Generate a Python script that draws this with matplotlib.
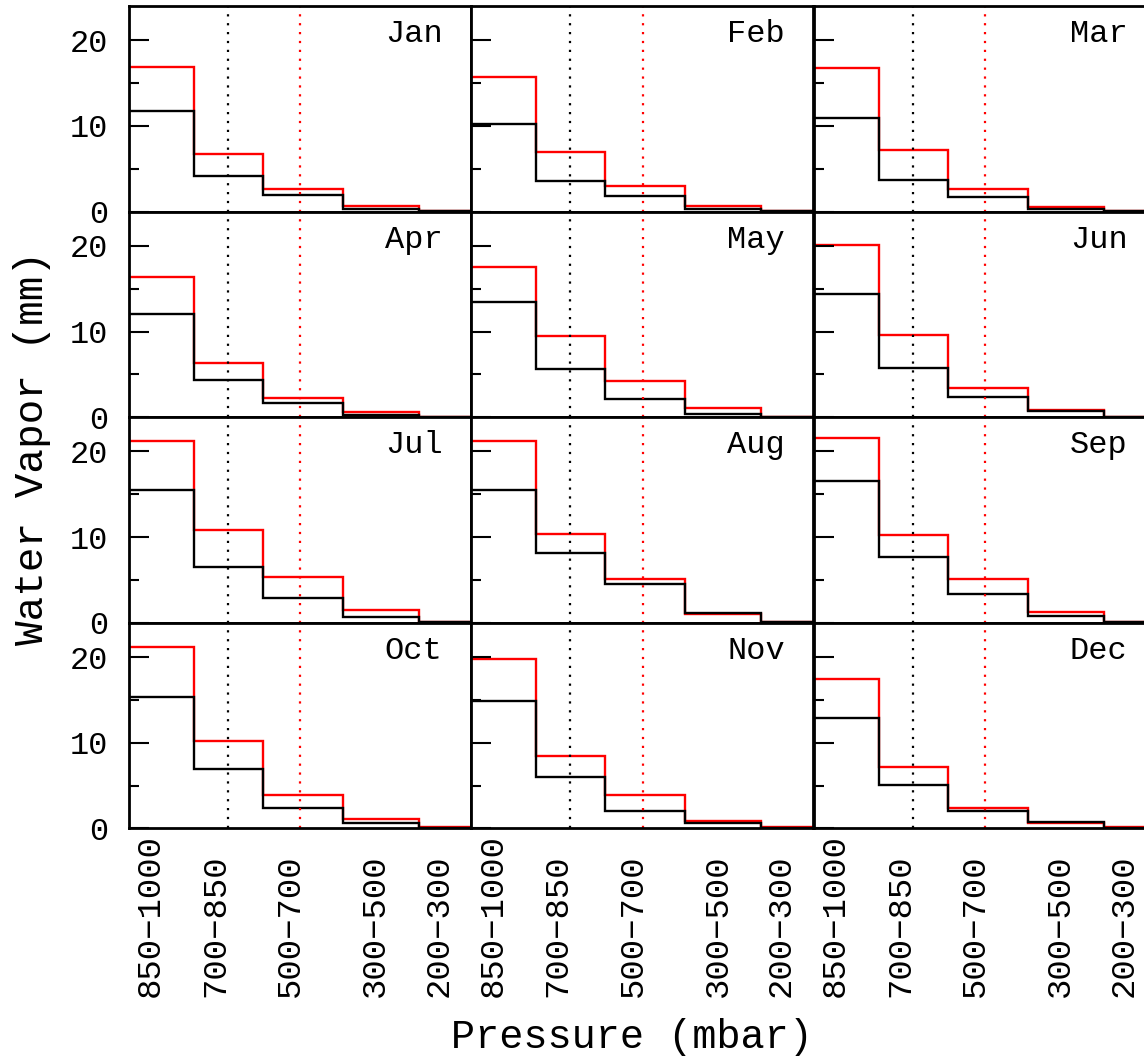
import matplotlib
matplotlib.use("Agg")
import matplotlib.pyplot as plt
from matplotlib.transforms import blended_transform_factory
from matplotlib.ticker import MultipleLocator

months = ['Jan', 'Feb', 'Mar', 'Apr', 'May', 'Jun',
          'Jul', 'Aug', 'Sep', 'Oct', 'Nov', 'Dec']
layer_labels = ['850\u22121000', '700\u2212850', '500\u2212700', '300\u2212500', '200\u2212300']
# layer boundaries on the (non-linear) pressure axis
layer_edges = [0, 65, 134, 214, 290, 342]
layer_label_pos = [22, 87, 162, 247, 310]
ref_black_x = 99
ref_red_x = 171.5

black_vals = [
    [11.74, 4.21, 1.91, 0.28, 0.05],
    [10.18, 3.59, 1.79, 0.35, 0.05],
    [10.96, 3.71, 1.72, 0.35, 0.05],
    [12.05, 4.35, 1.63, 0.30, 0.05],
    [13.49, 5.67, 2.17, 0.42, 0.05],
    [14.42, 5.79, 2.40, 0.70, 0.05],
    [15.47, 6.57, 2.88, 0.66, 0.05],
    [15.47, 8.09, 4.51, 1.13, 0.05],
    [16.55, 7.69, 3.34, 0.82, 0.05],
    [15.35, 6.88, 2.35, 0.58, 0.08],
    [14.88, 6.00, 2.08, 0.58, 0.08],
    [12.88, 5.04, 2.04, 0.77, 0.08],
]
red_vals = [
    [16.84, 6.78, 2.69, 0.70, 0.08],
    [15.75, 6.94, 2.93, 0.62, 0.05],
    [16.80, 7.22, 2.62, 0.55, 0.05],
    [16.40, 6.34, 2.28, 0.58, 0.05],
    [17.57, 9.45, 4.24, 1.12, 0.05],
    [20.14, 9.60, 3.38, 0.85, 0.05],
    [21.18, 10.84, 5.33, 1.52, 0.10],
    [21.18, 10.34, 5.13, 0.98, 0.05],
    [21.53, 10.30, 5.09, 1.21, 0.05],
    [21.23, 10.19, 3.88, 1.15, 0.22],
    [19.77, 8.42, 3.85, 0.92, 0.22],
    [17.42, 7.15, 2.38, 0.58, 0.22],
]

FONT = 'Liberation Mono'
W, H = 1144, 1064
fig = plt.figure(figsize=(W / 100, H / 100), dpi=100)
fig.patch.set_facecolor('white')

left0 = 128.5
colw = 342.5
top0 = 6.0
rowh = 205.6

for i, m in enumerate(months):
    r, c = divmod(i, 3)
    x0 = left0 + c * colw
    y0 = top0 + (r + 1) * rowh
    ax = fig.add_axes([x0 / W, 1 - y0 / H, colw / W, rowh / H])
    ax.set_xlim(layer_edges[0], layer_edges[-1])
    ax.set_ylim(0, 24)
    ax.axvline(ref_black_x, color='black', lw=1.6, ls=(0, (1, 3)))
    ax.axvline(ref_red_x, color='red', lw=1.6, ls=(0, (1, 3)))
    ax.stairs(red_vals[i], layer_edges, color='red', lw=1.7, baseline=None)
    ax.stairs(black_vals[i], layer_edges, color='black', lw=1.7, baseline=None)
    for s in ax.spines.values():
        s.set_linewidth(2.0)
        s.set_zorder(5)
    ax.set_xticks([])
    ax.yaxis.set_major_locator(MultipleLocator(10))
    ax.yaxis.set_minor_locator(MultipleLocator(5))
    ax.tick_params(axis='y', which='major', direction='in', length=14.4, width=1.5,
                   pad=14.5, labelsize=23)
    ax.tick_params(axis='y', which='minor', direction='in', length=7.2, width=1.5)
    if c == 0:
        for lab in ax.get_yticklabels():
            lab.set_fontfamily(FONT)
    else:
        ax.tick_params(axis='y', labelleft=False)
    ax.text(0.917, 0.825, m, transform=ax.transAxes, ha='right', va='baseline',
            fontsize=23, fontfamily=FONT)
    if r == 3:
        tr = blended_transform_factory(ax.transData, fig.transFigure)
        for xp, lab in zip(layer_label_pos, layer_labels):
            ax.text(xp, 1 - 997 / H, lab, transform=tr, rotation=90,
                    ha='center', va='bottom', fontsize=24.5, fontfamily=FONT)

fig.text(32 / W, 1 - 448 / H, 'Water Vapor (mm)', rotation=90, ha='center',
         va='center', fontsize=29.5, fontfamily=FONT)
fig.text(632 / W, 1 - 1037 / H, 'Pressure (mbar)', ha='center', va='center',
         fontsize=29, fontfamily=FONT)

fig.savefig('out.png', dpi=100)
